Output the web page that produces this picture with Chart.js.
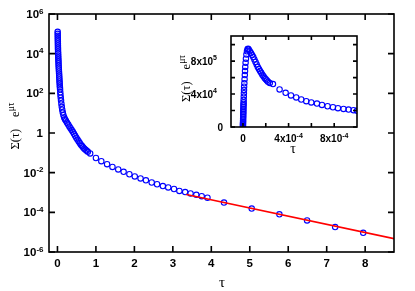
<!DOCTYPE html>
<html>
<head>
<meta charset="utf-8">
<script src="https://cdn.jsdelivr.net/npm/chart.js@4"></script>
<style>
  html, body { margin: 0; padding: 0; background: #fff; }
  #wrap { position: relative; width: 415px; height: 291px; }
  canvas { position: absolute; left: 0; top: 0; }
</style>
</head>
<body>
<div id="wrap">
  <canvas id="main" width="415" height="291"></canvas>
  <canvas id="inset" width="415" height="291"></canvas>
</div>
<script>
// ---- main panel: Sigma(tau) e^(mu tau) vs tau, log y ----
const mainTau = [
  0.005, 0.006, 0.007, 0.008, 0.009, 0.010, 0.011, 0.012, 0.013, 0.014,
  0.016, 0.018, 0.020, 0.022, 0.024, 0.026, 0.028, 0.030, 0.033, 0.036,
  0.039, 0.042, 0.045, 0.048, 0.051, 0.054, 0.057, 0.060, 0.064, 0.068,
  0.073, 0.078, 0.085, 0.093, 0.102, 0.112, 0.124, 0.138, 0.155, 0.175,
  0.195, 0.22, 0.25, 0.28, 0.31, 0.34, 0.37, 0.40, 0.43, 0.46,
  0.49, 0.52, 0.55, 0.58, 0.61, 0.64, 0.67, 0.70, 0.73, 0.76, 0.79,
  0.85, 1.00, 1.14, 1.29, 1.43, 1.58, 1.72, 1.87, 2.01, 2.16,
  2.30, 2.45, 2.59, 2.74, 2.88, 3.03, 3.17, 3.32, 3.46, 3.61,
  3.75, 3.90, 4.33, 5.05, 5.77, 6.49, 7.22, 7.95
];
const mainSigma = [
  1.26e5, 1.0e5, 7.9e4, 6.3e4, 5.0e4, 4.0e4, 3.2e4, 2.5e4, 2.0e4, 1.6e4,
  1.26e4, 1.0e4, 7.9e3, 6.3e3, 5.0e3, 4.0e3, 3.2e3, 2.5e3, 2.0e3, 1.6e3,
  1.26e3, 1.0e3, 790, 630, 500, 400, 320, 250, 200, 160,
  112, 83, 60, 43, 30, 21, 15, 10.7, 7.9, 6.0,
  5.0, 4.17, 3.31, 2.69, 2.14, 1.74, 1.41, 1.15, 0.912, 0.724,
  0.575, 0.468, 0.380, 0.309, 0.257, 0.219, 0.186, 0.162, 0.141, 0.126, 0.112,
  0.0933, 0.055, 0.038, 0.0269, 0.0195, 0.0145, 0.011, 0.0083, 0.0065, 0.0051,
  0.0041, 0.0032, 0.0026, 0.0021, 0.0018, 0.0015, 0.0012, 0.00105, 0.00089, 0.00076,
  0.00065, 0.00055, 0.00031, 0.000155, 0.000079, 0.000039, 0.000018, 0.0000093
];
// exponential tail fit (red line)
const fitTau = [3.35, 8.75];
const fitSigma = [7.9e-4, 4.7e-6];

const mainXTicks = [0, 1, 2, 3, 4, 5, 6, 7, 8];
const mainXLabels = [['0',''],['1',''],['2',''],['3',''],['4',''],['5',''],['6',''],['7',''],['8','']];
const mainYTicks = [1e-6, 1e-4, 1e-2, 1, 1e2, 1e4, 1e6];
const mainYLabels = [['10','-6'],['10','-4'],['10','-2'],['1',''],['10','2'],['10','4'],['10','6']];

// ---- inset: short times, linear y ----
const insetTau = [
  0, 0, 0, 0, 1e-6, 1e-6, 1.5e-6, 2e-6, 2e-6, 2.5e-6,
  3e-6, 3e-6, 3.5e-6, 4e-6, 4.5e-6, 5e-6, 5.5e-6, 6e-6, 7e-6, 8e-6,
  9e-6, 1.0e-5, 1.2e-5, 1.4e-5, 1.6e-5, 1.8e-5, 2.0e-5, 2.3e-5, 2.6e-5, 3.0e-5,
  3.5e-5, 4.0e-5, 4.5e-5,
  5e-5, 6e-5, 7e-5, 8e-5, 9e-5, 1.0e-4, 1.1e-4, 1.2e-4, 1.3e-4, 1.4e-4,
  1.5e-4, 1.6e-4, 1.7e-4, 1.8e-4, 1.9e-4, 2.0e-4, 2.1e-4, 2.2e-4, 2.35e-4,
  2.63e-4, 3.21e-4, 3.74e-4, 4.21e-4, 4.67e-4, 5.11e-4, 5.55e-4, 5.99e-4, 6.49e-4, 6.93e-4,
  7.42e-4, 7.89e-4, 8.33e-4, 8.82e-4, 9.26e-4, 9.70e-4, 1.0e-3
];
const insetSigma = [
  0, 1500, 3000, 4500, 6000, 8000, 10000, 12000, 14000, 16000,
  18000, 20000, 22000, 24000, 26000, 28000, 30000, 33000, 37000, 41000,
  45000, 49000, 53000, 58000, 63000, 68000, 73000, 78000, 83000, 88000,
  92000, 94500, 95000,
  94000, 92000, 90000, 87500, 85000, 82000, 79000, 76000, 73000, 70500,
  68000, 66000, 63500, 61500, 59500, 58000, 56500, 55000, 53500,
  52100, 45600, 41500, 38300, 35900, 33400, 31300, 29800, 28500, 26800,
  25200, 24000, 22800, 22000, 21200, 20400, 19700
];
const insetXTicks = [0, 2e-4, 4e-4, 6e-4, 8e-4];
const insetXLabels = [['0',''],['',''],['4x10','-4'],['',''],['8x10','-4']];
const insetYTicks = [0, 2e4, 4e4, 6e4, 8e4, 1e5];
const insetYLabels = [['0',''],['',''],['4x10','4'],['',''],['8x10','5'],['','']];

const toPts = (xs, ys) => xs.map((x, i) => ({ x: x, y: ys[i] }));

// text with a raised exponent
function drawSup(ctx, x, y, base, sup, font, supFont, align, rise) {
  ctx.font = font;
  const bw = ctx.measureText(base).width;
  ctx.font = supFont;
  const sw = sup ? ctx.measureText(sup).width : 0;
  let left = x;
  if (align == 'right') left = x - bw - sw;
  if (align == 'center') left = x - (bw + sw) / 2;
  ctx.textAlign = 'left';
  ctx.textBaseline = 'alphabetic';
  ctx.font = font;
  ctx.fillText(base, left, y);
  if (sup) {
    ctx.font = supFont;
    ctx.fillText(sup, left + bw, y - rise);
  }
}

// rotated y title "Σ(τ)  e^{μτ}"
function drawYTitle(ctx, bx, cy, t) {
  ctx.save();
  ctx.translate(bx, cy);
  ctx.rotate(-Math.PI / 2);
  ctx.textAlign = 'left';
  ctx.textBaseline = 'alphabetic';
  ctx.font = t.font;
  const w1 = ctx.measureText(t.a).width;
  const w2 = ctx.measureText(t.b).width;
  ctx.font = t.supFont;
  const w3 = ctx.measureText(t.sup).width;
  let xx = -(w1 + t.gap + w2 + w3) / 2;
  ctx.font = t.font;
  ctx.fillText(t.a, xx, 0);
  xx += w1 + t.gap;
  ctx.fillText(t.b, xx, 0);
  xx += w2;
  ctx.font = t.supFont;
  ctx.fillText(t.sup, xx, -t.rise);
  ctx.restore();
}

const framePlugin = {
  id: 'frame',
  beforeDatasetsDraw(chart, args, o) {
    if (!o.fill) return;
    const a = chart.chartArea;
    chart.ctx.fillStyle = o.fill;
    chart.ctx.fillRect(a.left, a.top, a.right - a.left, a.bottom - a.top);
  },
  afterDraw(chart, args, o) {
    const ctx = chart.ctx, a = chart.chartArea;
    const x = chart.scales.x, y = chart.scales.y;
    ctx.save();
    ctx.strokeStyle = '#000';
    ctx.lineWidth = o.lw;
    ctx.beginPath();
    o.xTicks.forEach(v => {
      const px = x.getPixelForValue(v);
      ctx.moveTo(px, a.bottom); ctx.lineTo(px, a.bottom - o.tick);
      ctx.moveTo(px, a.top); ctx.lineTo(px, a.top + o.tick);
    });
    o.yTicks.forEach(v => {
      const py = y.getPixelForValue(v);
      ctx.moveTo(a.left, py); ctx.lineTo(a.left + o.tick, py);
      ctx.moveTo(a.right, py); ctx.lineTo(a.right - o.tick, py);
    });
    ctx.stroke();
    ctx.strokeRect(a.left, a.top, a.right - a.left, a.bottom - a.top);

    ctx.fillStyle = '#000';
    o.xTicks.forEach((v, i) => {
      const [b, s] = o.xLabels[i];
      if (!b) return;
      drawSup(ctx, x.getPixelForValue(v), a.bottom + o.xDy, b, s, o.font, o.supFont, 'center', o.rise);
    });
    o.yTicks.forEach((v, i) => {
      const [b, s] = o.yLabels[i];
      if (!b) return;
      const rx = s ? o.yRightSup : o.yRight;
      drawSup(ctx, rx, y.getPixelForValue(v) + o.yDy, b, s, o.font, o.supFont, 'right', o.rise);
    });

    // axis titles
    ctx.font = o.xTitle.font;
    ctx.textAlign = 'center';
    ctx.textBaseline = 'alphabetic';
    ctx.fillText(o.xTitle.text, o.xTitle.x, o.xTitle.y);
    drawYTitle(ctx, o.yTitle.x, o.yTitle.y, o.yTitle);
    ctx.restore();
  }
};

new Chart(document.getElementById('main'), {
  type: 'scatter',
  data: {
    datasets: [
      {
        type: 'line',
        data: toPts(fitTau, fitSigma),
        borderColor: '#ff0000',
        borderWidth: 1.6,
        pointRadius: 0,
        fill: false,
        order: 0
      },
      {
        data: toPts(mainTau, mainSigma),
        borderColor: '#0000ff',
        backgroundColor: 'rgba(0,0,0,0)',
        pointRadius: 2.7,
        borderWidth: 1.1,
        order: 1
      }
    ]
  },
  options: {
    responsive: false,
    animation: false,
    events: [],
    layout: { padding: { left: 49, top: 14, right: 21, bottom: 39 } },
    scales: {
      x: { type: 'linear', min: -0.22, max: 8.75, display: false },
      y: { type: 'logarithmic', min: 1e-6, max: 1e6, display: false }
    },
    plugins: {
      legend: { display: false },
      tooltip: { enabled: false },
      frame: {
        lw: 1.6, tick: 6,
        xTicks: mainXTicks, xLabels: mainXLabels,
        yTicks: mainYTicks, yLabels: mainYLabels,
        font: 'bold 11.5px "Liberation Sans", Arial, sans-serif',
        supFont: 'bold 8px "Liberation Sans", Arial, sans-serif',
        rise: 4.5, xDy: 14.7, yDy: 4, yRight: 43, yRightSup: 43.5,
        xTitle: { text: 'τ', x: 222, y: 287, font: '15px "Liberation Serif", serif' },
        yTitle: { a: 'Σ(τ)', b: 'e', sup: 'μτ', gap: 12, rise: 5, x: 18.5, y: 126,
                  font: '12.5px "Liberation Serif", serif', supFont: '9.5px "Liberation Serif", serif' }
      }
    }
  },
  plugins: [framePlugin]
});

new Chart(document.getElementById('inset'), {
  type: 'scatter',
  data: {
    datasets: [{
      data: toPts(insetTau, insetSigma),
      borderColor: '#0000ff',
      backgroundColor: 'rgba(0,0,0,0)',
      pointRadius: 2.7,
      borderWidth: 1.1
    }]
  },
  options: {
    responsive: false,
    animation: false,
    events: [],
    layout: { padding: { left: 231, top: 36, right: 58, bottom: 164 } },
    scales: {
      x: { type: 'linear', min: -1.05e-4, max: 1.0e-3, display: false },
      y: { type: 'linear', min: 0, max: 1.105e5, display: false }
    },
    plugins: {
      legend: { display: false },
      tooltip: { enabled: false },
      frame: {
        fill: '#ffffff',
        lw: 1.6, tick: 4,
        xTicks: insetXTicks, xLabels: insetXLabels,
        yTicks: insetYTicks, yLabels: insetYLabels,
        font: 'bold 10px "Liberation Sans", Arial, sans-serif',
        supFont: 'bold 7px "Liberation Sans", Arial, sans-serif',
        rise: 4.5, xDy: 15, yDy: 3.5, yRight: 223, yRightSup: 217,
        xTitle: { text: 'τ', x: 293, y: 153, font: '14px "Liberation Serif", serif' },
        yTitle: { a: 'Σ(τ)', b: 'e', sup: 'μτ', gap: 12, rise: 5, x: 190, y: 78.5,
                  font: '12.5px "Liberation Serif", serif', supFont: '9.5px "Liberation Serif", serif' }
      }
    }
  },
  plugins: [framePlugin]
});
</script>
</body>
</html>
